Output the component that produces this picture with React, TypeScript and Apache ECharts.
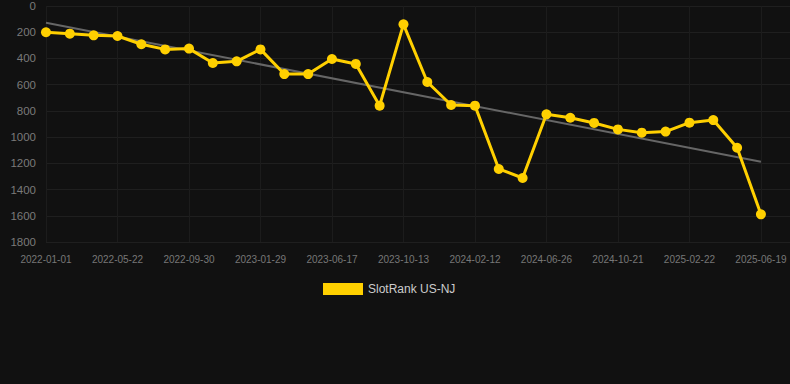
import React, { useEffect, useRef } from "react";
import * as echarts from "echarts";

const dates = [
  "2022-01-01", "2022-02-17", "2022-04-05", "2022-05-22", "2022-07-05", "2022-08-18",
  "2022-09-30", "2022-11-09", "2022-12-19", "2023-01-29", "2023-03-16", "2023-05-01",
  "2023-06-17", "2023-07-26", "2023-09-03", "2023-10-13", "2023-11-23", "2024-01-02",
  "2024-02-12", "2024-03-28", "2024-05-12", "2024-06-26", "2024-08-04", "2024-09-12",
  "2024-10-21", "2024-12-01", "2025-01-11", "2025-02-22", "2025-04-02", "2025-05-11",
  "2025-06-19",
];

const ranks = [
  200, 211, 224, 229, 292, 331, 325, 435, 422, 331, 519, 519, 404, 442, 760, 140,
  580, 755, 760, 1243, 1312, 826, 852, 892, 941, 966, 958, 890, 870, 1081, 1589,
];

const trendStart = 127;
const trendEnd = 1188;

const seriesName = "SlotRank US-NJ";

export default function App() {
  const ref = useRef<HTMLDivElement>(null);
  useEffect(() => {
    document.body.style.margin = "0";
    document.body.style.background = "#111111";
    if (!ref.current) return;
    const chart = echarts.init(ref.current, null, { renderer: "svg" });
    const lastIdx = dates.length - 1;
    chart.setOption({
      animation: false,
      backgroundColor: "#111111",
      grid: { left: 46, right: 0, top: 6, bottom: 142, containLabel: false },
      legend: {
        data: [seriesName],
        top: 278,
        left: 318,
        icon: "rect",
        itemWidth: 40,
        itemHeight: 12,
        textStyle: { color: "#cccccc", fontSize: 12, fontFamily: "Arial, Liberation Sans, sans-serif" },
      },
      xAxis: {
        type: "value",
        min: 0,
        max: 31.22,
        interval: 3,
        axisLine: { show: false },
        axisTick: { show: false },
        axisLabel: {
          color: "#777777",
          fontSize: 10,
          margin: 12,
          fontFamily: "Arial, Liberation Sans, sans-serif",
          showMaxLabel: false,
          formatter: (v: number) => (Number.isInteger(v) && dates[v] ? dates[v] : ""),
        },
        splitLine: { show: true, lineStyle: { color: "#1c1c1c", width: 1 } },
      },
      yAxis: {
        type: "value",
        inverse: true,
        min: 0,
        max: 1800,
        interval: 200,
        axisLine: { show: false },
        axisTick: { show: false },
        axisLabel: {
          color: "#7a7a7a",
          fontSize: 11.5,
          margin: 10,
          fontFamily: "Arial, Liberation Sans, sans-serif",
          formatter: (v: number) => String(v),
        },
        splitLine: { show: true, lineStyle: { color: "#1f1f1f", width: 1 } },
      },
      series: [
        {
          name: "trend",
          type: "line",
          data: [
            [0, trendStart],
            [lastIdx, trendEnd],
          ],
          symbol: "none",
          lineStyle: { color: "#666666", width: 2 },
          itemStyle: { color: "#666666" },
          z: 1,
          silent: true,
        },
        {
          name: seriesName,
          type: "line",
          data: ranks.map((v, i) => [i, v]),
          symbol: "circle",
          symbolSize: 10,
          lineStyle: { color: "#FFD000", width: 3 },
          itemStyle: { color: "#FFD000" },
          z: 3,
        },
      ],
    });
    return () => chart.dispose();
  }, []);
  return <div ref={ref} style={{ width: 790, height: 384 }} />;
}
